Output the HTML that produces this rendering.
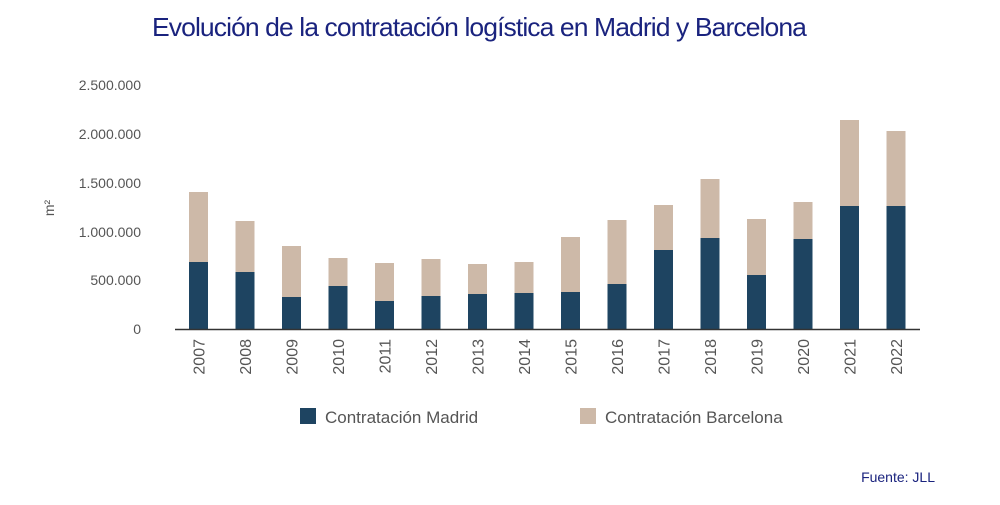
<!DOCTYPE html>
<html><head><meta charset="utf-8"><style>
body{margin:0;background:#fff;width:1000px;height:500px;overflow:hidden}
</style></head><body>
<svg width="1000" height="500" xmlns="http://www.w3.org/2000/svg" font-family="Liberation Sans, sans-serif">
<text x="479" y="36" text-anchor="middle" font-size="26" fill="#1a237e" letter-spacing="-0.9" textLength="654" lengthAdjust="spacingAndGlyphs">Evolución de la contratación logística en Madrid y Barcelona</text>
<g font-size="14" fill="#555" text-anchor="end">
<text x="141" y="90">2.500.000</text>
<text x="141" y="139">2.000.000</text>
<text x="141" y="188">1.500.000</text>
<text x="141" y="237">1.000.000</text>
<text x="141" y="285">500.000</text>
<text x="141" y="334">0</text>
</g>
<text transform="translate(54,208) rotate(-90)" font-size="14" fill="#555" text-anchor="middle">m²</text>
<g id="bars"></g>
<line x1="175" y1="329.5" x2="920" y2="329.5" stroke="#333" stroke-width="1.5"/>
<g font-size="16" fill="#555" id="years"></g>
<rect x="300" y="408" width="16" height="16" fill="#1e4461"/>
<text x="325" y="423" font-size="17" fill="#555">Contratación Madrid</text>
<rect x="580" y="408" width="16" height="16" fill="#cdb9a8"/>
<text x="605" y="423" font-size="17" fill="#555">Contratación Barcelona</text>
<text x="935" y="482" font-size="14" fill="#1a237e" text-anchor="end">Fuente:  JLL</text>
<script>
var m=[262,272,297,286,301,296,294,293,292,284,250,238,275,239,206,206];
var t=[192,221,246,258,263,259,264,262,237,220,205,179,219,202,120,131];
var b=document.getElementById('bars'),y=document.getElementById('years'),ns='http://www.w3.org/2000/svg';
for(var i=0;i<16;i++){var x=189+i*46.5;
var r=document.createElementNS(ns,'rect');r.setAttribute('x',x);r.setAttribute('y',t[i]);r.setAttribute('width',19);r.setAttribute('height',m[i]-t[i]);r.setAttribute('fill','#cdb9a8');b.appendChild(r);
r=document.createElementNS(ns,'rect');r.setAttribute('x',x);r.setAttribute('y',m[i]);r.setAttribute('width',19);r.setAttribute('height',329-m[i]);r.setAttribute('fill','#1e4461');b.appendChild(r);
var tx=document.createElementNS(ns,'text');tx.setAttribute('transform','translate('+(x+15.5)+',339) rotate(-90)');tx.setAttribute('text-anchor','end');tx.textContent=2007+i;y.appendChild(tx);}
</script>
</svg>
</body></html>
